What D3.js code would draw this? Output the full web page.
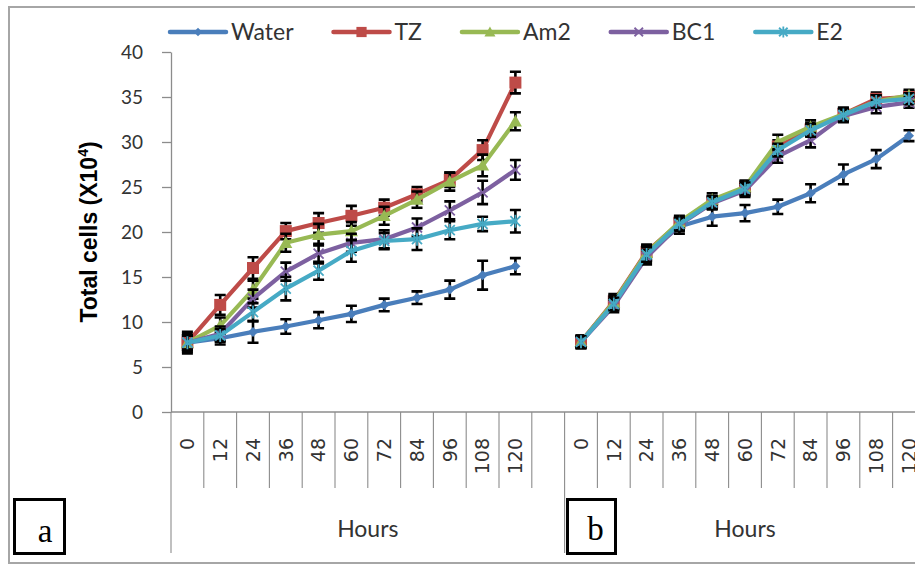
<!DOCTYPE html>
<html><head><meta charset="utf-8">
<script src="https://cdn.jsdelivr.net/npm/d3@7"></script>
<style>body{margin:0;background:#fff}svg{display:block}</style>
</head><body><svg id="c" width="915" height="565"></svg>
<script>
// ---------- data ----------
const hours = ["0","12","24","36","48","60","72","84","96","108","120"];
const yTicks = [0,5,10,15,20,25,30,35,40];
const seriesNames = ["Water","TZ","Am2","BC1","E2"];
const seriesColors = ["#4A7EBB","#BE4B48","#98B954","#7D60A0","#46AAC5"];
const seriesMarkers = ["diamond","square","triangle","x","star"];
const panelLabels = ["a","b"];
const xTitle = "Hours";

// panel a
const waterA = [7.7, 8.2, 8.9, 9.5, 10.2, 10.9, 11.9, 12.7, 13.6, 15.2, 16.2];
const tzA    = [7.7, 11.9, 16.0, 20.1, 21.0, 21.8, 22.7, 24.2, 25.8, 29.1, 36.6];
const am2A   = [7.7, 9.6, 13.6, 18.8, 19.7, 20.1, 21.8, 23.6, 25.6, 27.4, 32.3];
const bc1A   = [7.7, 8.7, 12.6, 15.6, 17.6, 18.8, 19.2, 20.5, 22.4, 24.4, 26.9];
const e2A    = [7.7, 8.5, 11.1, 13.7, 15.7, 17.9, 19.0, 19.2, 20.2, 20.9, 21.2];
const waterAErr = [1.0, 0.7, 1.2, 0.8, 0.9, 0.9, 0.7, 0.7, 1.0, 1.6, 0.9];
const tzAErr    = [1.2, 1.1, 1.2, 0.9, 1.1, 1.1, 0.9, 0.8, 0.8, 1.1, 1.2];
const am2AErr   = [0.8, 0.9, 1.0, 1.0, 1.2, 1.0, 1.0, 0.9, 1.0, 1.2, 1.0];
const bc1AErr   = [0.8, 0.8, 1.0, 1.0, 1.1, 1.0, 1.0, 1.0, 1.0, 1.3, 1.1];
const e2AErr    = [0.8, 0.7, 1.0, 1.3, 1.0, 1.2, 0.9, 1.2, 1.0, 0.8, 1.25];

// panel b
const waterB = [7.8, 12.1, 17.6, 20.6, 21.7, 22.1, 22.8, 24.3, 26.4, 28.1, 30.7];
const tzB    = [7.8, 12.3, 17.8, 21.0, 23.3, 24.9, 29.5, 31.4, 33.1, 34.8, 35.0];
const am2B   = [7.8, 12.2, 17.7, 21.1, 23.6, 25.0, 30.0, 31.7, 33.1, 34.5, 35.2];
const bc1B   = [7.8, 11.8, 17.2, 20.8, 23.2, 24.6, 28.4, 30.2, 32.9, 33.9, 34.4];
const e2B    = [7.8, 12.0, 17.5, 20.9, 23.3, 24.8, 29.1, 31.3, 33.0, 34.5, 34.8];
const waterBErr = [0.7, 0.7, 0.8, 0.8, 1.0, 0.9, 0.8, 1.0, 1.1, 1.0, 0.6];
const tzBErr    = [0.7, 0.8, 0.8, 0.7, 0.7, 0.8, 0.7, 0.7, 0.7, 0.7, 0.6];
const am2BErr   = [0.6, 0.7, 0.8, 0.7, 0.7, 0.7, 0.8, 0.7, 0.7, 0.7, 0.6];
const bc1BErr   = [0.6, 0.7, 0.8, 0.7, 0.7, 0.7, 0.7, 0.8, 0.7, 0.7, 0.6];
const e2BErr    = [0.6, 0.7, 0.8, 0.7, 0.7, 0.7, 0.7, 0.7, 0.7, 0.7, 0.6];

const panelA = [waterA, tzA, am2A, bc1A, e2A];
const panelAErr = [waterAErr, tzAErr, am2AErr, bc1AErr, e2AErr];
const panelB = [waterB, tzB, am2B, bc1B, e2B];
const panelBErr = [waterBErr, tzBErr, am2BErr, bc1BErr, e2BErr];

// ---------- layout ----------
const svg = d3.select("#c");
const axisGray = "#8c8c8c";

svg.append("rect").attr("x",9).attr("y",7).attr("width",960).attr("height",556)
  .attr("fill","#fff").attr("stroke","#a6a6a6").attr("stroke-width",2);

const cats = [...hours.map(h=>"a"+h), "a_gap", ...hours.map(h=>"b"+h)];
const catW = 32.8;
const x = d3.scaleBand().domain(cats).range([171, 171 + cats.length*catW]).padding(0);
const y = d3.scaleLinear().domain([0,40]).range([412,52]);
const bw = x.bandwidth();

// y axis
const yAxis = svg.append("g").attr("transform","translate(171,0)")
  .call(d3.axisLeft(y).tickValues(yTicks).tickSize(9).tickSizeOuter(0).tickPadding(19));
yAxis.select(".domain").attr("stroke",axisGray).attr("stroke-width",1.3);
yAxis.selectAll(".tick line").attr("stroke",axisGray).attr("stroke-width",1.3);
yAxis.selectAll(".tick text").attr("font-family","Lato, sans-serif").attr("font-size",19)
  .attr("fill","#333").attr("dy","0.36em");

// x axis line
svg.append("line").attr("x1",171).attr("x2",960).attr("y1",412).attr("y2",412)
  .attr("stroke",axisGray).attr("stroke-width",1.3);

// category dividers
const divs = cats.map(c => ({pos: x(c), long: (c==="a0"||c==="b0")}));
divs.push({pos: x(cats[cats.length-1]) + bw, long:false});
svg.append("g").selectAll("line").data(divs).join("line")
  .attr("x1",d=>d.pos).attr("x2",d=>d.pos).attr("y1",412).attr("y2",d=>d.long?553:488)
  .attr("stroke",axisGray).attr("stroke-width",1.1);

// category labels
const labCats = cats.filter(c => c!=="a_gap");
svg.append("g").selectAll("text").data(labCats).join("text")
  .attr("transform", c => `translate(${x(c)+bw/2},438) rotate(-90)`)
  .attr("text-anchor","end").attr("dy","0.36em")
  .attr("font-family","'DejaVu Sans', sans-serif").attr("font-size",19).attr("fill","#333")
  .text(c => c.slice(1));

// group titles
const gA = (x("a0") + x("b0"))/2;
const gB = (x("b0") + x("b120") + bw)/2;
svg.append("g").selectAll("text").data([gA,gB]).join("text")
  .attr("x",d=>d).attr("y",537).attr("text-anchor","middle")
  .attr("font-family","Lato, sans-serif").attr("font-size",23).attr("fill","#333")
  .text(xTitle);

// y title
const yt = svg.append("text").attr("transform","translate(97,232) rotate(-90)")
  .attr("text-anchor","middle").attr("font-family","'Liberation Sans', Arial, sans-serif")
  .attr("font-weight","bold").attr("font-size",23).attr("fill","#000");
yt.append("tspan").text("Total cells (X10");
yt.append("tspan").attr("font-size",14).attr("dy","-9").text("4");
yt.append("tspan").attr("dy","9").text(")");

// markers
function drawMarker(g, type, cx, cy, color, scale=1) {
  const s = scale;
  if (type==="diamond") {
    const r=5*s;
    g.append("path").attr("d",`M${cx},${cy-r}L${cx+r},${cy}L${cx},${cy+r}L${cx-r},${cy}Z`).attr("fill",color);
  } else if (type==="square") {
    const r=6*s;
    g.append("rect").attr("x",cx-r).attr("y",cy-r).attr("width",2*r).attr("height",2*r).attr("fill",color);
  } else if (type==="triangle") {
    const r=6.5*s;
    g.append("path").attr("d",`M${cx},${cy-r}L${cx+r},${cy+r*0.8}L${cx-r},${cy+r*0.8}Z`).attr("fill",color);
  } else if (type==="x") {
    const r=5*s;
    g.append("path").attr("d",`M${cx-r},${cy-r}L${cx+r},${cy+r}M${cx-r},${cy+r}L${cx+r},${cy-r}`)
      .attr("stroke",color).attr("stroke-width",1.8).attr("fill","none");
  } else if (type==="star") {
    const r=5*s;
    g.append("path").attr("d",`M${cx-r},${cy-r}L${cx+r},${cy+r}M${cx-r},${cy+r}L${cx+r},${cy-r}M${cx},${cy-r*1.3}L${cx},${cy+r*1.3}`)
      .attr("stroke",color).attr("stroke-width",1.8).attr("fill","none");
  }
}

// series
function drawPanel(prefix, vals, errs) {
  const cx = i => x(prefix + hours[i]) + bw/2;
  vals.forEach((arr, si) => {
    const g = svg.append("g");
    const color = seriesColors[si];
    g.append("path").datum(arr)
      .attr("d", d3.line().x((d,i)=>cx(i)).y(d=>y(d)))
      .attr("fill","none").attr("stroke",color).attr("stroke-width",4.2)
      .attr("stroke-linejoin","round").attr("stroke-linecap","round");
    arr.forEach((v,i) => {
      const e = errs[si][i];
      const xx = cx(i), y1 = y(v-e), y2 = y(v+e);
      g.append("path").attr("d",`M${xx},${y1}L${xx},${y2}M${xx-5.5},${y1}L${xx+5.5},${y1}M${xx-5.5},${y2}L${xx+5.5},${y2}`)
        .attr("stroke","#000").attr("stroke-width",2.6).attr("fill","none");
    });
    arr.forEach((v,i) => drawMarker(g, seriesMarkers[si], cx(i), y(v), color));
  });
}
drawPanel("a", panelA, panelAErr);
drawPanel("b", panelB, panelBErr);

// legend
const leg = svg.append("g");
let lx = 170;
seriesNames.forEach((name, i) => {
  const ly = 32;
  leg.append("line").attr("x1",lx).attr("x2",lx+56).attr("y1",ly).attr("y2",ly)
    .attr("stroke",seriesColors[i]).attr("stroke-width",4.5).attr("stroke-linecap","round");
  drawMarker(leg, seriesMarkers[i], lx+28, ly, seriesColors[i], 0.85);
  const t = leg.append("text").attr("x",lx+61).attr("y",ly).attr("dy","0.36em")
    .attr("font-family","Lato, sans-serif").attr("font-size",23).attr("fill","#333").text(name);
  lx = lx + 61 + t.node().getComputedTextLength() + 40;
});

// panel label boxes
const boxes = [{x:14.5, w:50, tx:45, ty:542}, {x:567.5, w:48, tx:595.5, ty:540}];
svg.append("g").selectAll("rect").data(boxes).join("rect")
  .attr("x",d=>d.x).attr("y",499.5).attr("width",d=>d.w).attr("height",54)
  .attr("fill","#fff").attr("stroke","#000").attr("stroke-width",3);
svg.append("g").selectAll("text").data(boxes).join("text")
  .attr("x",d=>d.tx).attr("y",d=>d.ty).attr("text-anchor","middle")
  .attr("font-family","'Liberation Serif', 'Times New Roman', serif").attr("font-size",33).attr("fill","#000")
  .text((d,i)=>panelLabels[i]);
</script></body></html>
